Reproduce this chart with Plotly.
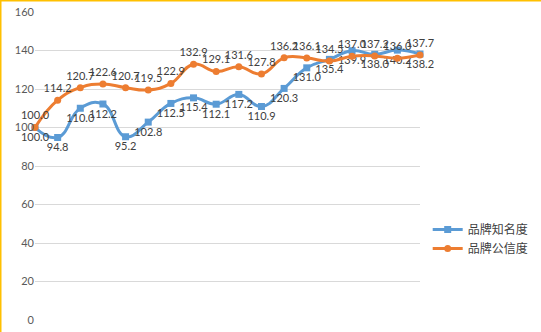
import plotly.graph_objects as go

# Period index (no category labels shown on the axis)
periods = list(range(18))

awareness = [100.0, 94.8, 110.0, 112.2, 95.2, 102.8, 112.5, 115.4, 112.1,
             117.2, 110.9, 120.3, 131.0, 135.4, 139.9, 138.0, 140.2, 138.2]
credibility = [100.0, 114.2, 120.7, 122.6, 120.7, 119.5, 122.9, 132.9, 129.1,
               131.6, 127.8, 136.2, 136.1, 134.5, 137.0, 137.2, 136.0, 137.7]

y_ticks = [0, 20, 40, 60, 80, 100, 120, 140, 160]

BLUE = "#5B9BD5"
ORANGE = "#ED7D31"
LABEL_FONT = dict(family="Lato, 'Noto Sans CJK SC', sans-serif", size=11, color="#404040")

W, H = 541, 332
ML, MR, MT, MB = 35, 121, 12, 12

fig = go.Figure()
fig.add_trace(go.Scatter(
    x=periods, y=awareness, name="品牌知名度",
    mode="lines+markers+text",
    line=dict(color=BLUE, width=3, shape="spline", smoothing=1.3),
    marker=dict(symbol="square", size=7, color=BLUE),
    text=[f"{v:.1f}" for v in awareness], textposition="bottom center",
    textfont=LABEL_FONT, cliponaxis=False,
))
fig.add_trace(go.Scatter(
    x=periods, y=credibility, name="品牌公信度",
    mode="lines+markers+text",
    line=dict(color=ORANGE, width=3, shape="spline", smoothing=1.3),
    marker=dict(symbol="circle", size=7, color=ORANGE),
    text=[f"{v:.1f}" for v in credibility], textposition="top center",
    textfont=LABEL_FONT, cliponaxis=False,
))

pw = W - ML - MR
ph = H - MT - MB
# thin gold frame along the top and left edges of the chart
fig.add_shape(type="line", xref="paper", yref="paper",
              x0=-ML / pw, x1=(W - ML) / pw, y0=(H - MB) / ph - 0.5 / ph, y1=(H - MB) / ph - 0.5 / ph,
              line=dict(color="#FFC000", width=2))
fig.add_shape(type="line", xref="paper", yref="paper",
              x0=-ML / pw + 0.5 / pw, x1=-ML / pw + 0.5 / pw, y0=-MB / ph, y1=(H - MB) / ph,
              line=dict(color="#FFC000", width=2))

fig.update_layout(
    width=W, height=H,
    margin=dict(l=ML, r=MR, t=MT, b=MB, autoexpand=False),
    paper_bgcolor="white", plot_bgcolor="white",
    showlegend=True,
    legend=dict(x=1.02, y=0.263, xanchor="left", yanchor="middle",
                font=dict(family="'Noto Sans CJK SC', sans-serif", size=12, color="#404040"),
                bgcolor="rgba(0,0,0,0)", itemwidth=30),
    xaxis=dict(range=[0, 17], showticklabels=False, showgrid=False, zeroline=False,
               showline=False, ticks="", automargin=False),
    yaxis=dict(range=[0, 160], tickvals=y_ticks, ticktext=[str(t) for t in y_ticks],
               showgrid=True, gridcolor="#D9D9D9", gridwidth=1, zeroline=False,
               showline=False, ticks="", automargin=False,
               tickfont=dict(family="Lato, sans-serif", size=11, color="#595959")),
)

fig.write_html("out.html")
